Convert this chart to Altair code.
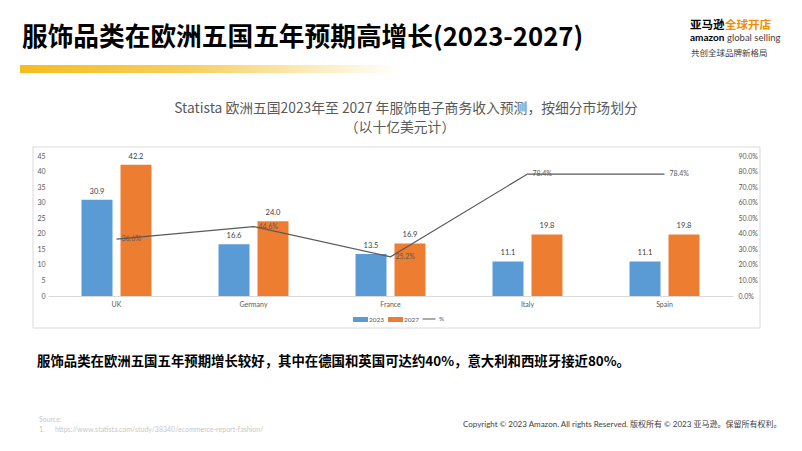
import altair as alt
import pandas as pd

# ---- data ----
countries = ["UK", "Germany", "France", "Italy", "Spain"]
years = ["2023", "2027"]
rev_2023 = [30.9, 16.6, 13.5, 11.1, 11.1]
rev_2027 = [42.2, 24.0, 16.9, 19.8, 19.8]
growth_pct = [36.6, 44.6, 25.2, 78.4, 78.4]

BLUE = "#5B9BD5"
ORANGE = "#ED7D31"
GRAY_TXT = "#595959"
CN = "Noto Sans CJK SC"
LAT = "Lato, Noto Sans CJK SC"

bars_df = pd.DataFrame({
    "country": countries * 2,
    "year": [years[0]] * 5 + [years[1]] * 5,
    "value": rev_2023 + rev_2027,
})
line_df = pd.DataFrame({
    "country": countries,
    "pct": [g / 100 for g in growth_pct],
    "s": ["%"] * 5,
})
one = pd.DataFrame({"k": [0]})

x_scale = alt.Scale(domain=countries, paddingInner=0, paddingOuter=0)
x_enc = alt.X("country:N", scale=x_scale, sort=countries,
              axis=alt.Axis(title=None, labelAngle=0, ticks=False, domainColor="#D9D9D9",
                            labelFontSize=7, labelColor=GRAY_TXT, labelFont=LAT, labelPadding=4, zindex=1))
xoff = alt.XOffset("year:N", sort=years, scale=alt.Scale(paddingInner=0.205, paddingOuter=0.86))
y_left = alt.Y("value:Q", scale=alt.Scale(domain=[0, 45], nice=False),
               axis=alt.Axis(title=None, values=list(range(0, 50, 5)), grid=False, ticks=False, domain=False,
                             labelFontSize=7, labelColor=GRAY_TXT, labelFont=LAT, labelPadding=3, zindex=1))

bars = alt.Chart(bars_df).mark_bar().encode(
    x=x_enc, xOffset=xoff, y=y_left,
    fill=alt.Fill("year:N", sort=years, scale=alt.Scale(domain=years, range=[BLUE, ORANGE]),
                  legend=alt.Legend(orient="none", legendX=305, legendY=156, direction="horizontal",
                                    title=None, symbolType="M-1,-0.333H1V0.333H-1Z", symbolSize=225,
                                    symbolStrokeWidth=0, labelFontSize=6.5, labelColor=GRAY_TXT,
                                    labelFont=LAT, labelOffset=1, columnPadding=3, padding=0)),
)
bar_text = alt.Chart(bars_df).mark_text(baseline="bottom", dy=-4, fontSize=7.5, color="#404040", font=LAT).encode(
    x=x_enc, xOffset=xoff, y=y_left, text=alt.Text("value:Q", format=".1f"),
)
bar_layer = alt.layer(bars, bar_text)

y_right = alt.Y("pct:Q", scale=alt.Scale(domain=[0, 0.9], nice=False),
                axis=alt.Axis(title=None, orient="right", format=".1%", values=[i / 10 for i in range(10)],
                              grid=False, ticks=False, domain=False, labelFontSize=7,
                              labelColor=GRAY_TXT, labelFont=LAT, labelPadding=5, zindex=1))
line = alt.Chart(line_df).mark_line(strokeWidth=1.2).encode(
    x=x_enc, y=y_right,
    stroke=alt.Stroke("s:N", scale=alt.Scale(domain=["%"], range=["#595959"]),
                      legend=alt.Legend(orient="none", legendX=374, legendY=156, title=None,
                                        symbolType="stroke", symbolSize=169, symbolStrokeWidth=1,
                                        labelFontSize=6.5, labelColor=GRAY_TXT, labelFont=LAT,
                                        labelOffset=3, padding=0)),
)
line_text = alt.Chart(line_df).mark_text(align="left", baseline="middle", dx=5, fontSize=7,
                                         color=GRAY_TXT, font=LAT).encode(
    x=x_enc, y=y_right, text=alt.Text("pct:Q", format=".1%"),
)
line_layer = alt.layer(line, line_text)


def txt(s, x, y, size, color="#000000", weight="normal", font=CN, align="left"):
    return alt.Chart(one).mark_text(text=s, fontSize=size, color=color, fontWeight=weight, font=font,
                                    align=align, baseline="middle").encode(x=alt.value(x), y=alt.value(y))


panel = alt.Chart(one).mark_rect(fillOpacity=0, fill="white", stroke="#D9D9D9", strokeWidth=1).encode(
    x=alt.value(-15), x2=alt.value(712), y=alt.value(-9), y2=alt.value(172))

grad = alt.Chart(one).mark_rect(color=alt.Gradient(
    gradient="linear", x1=0, x2=1, y1=0, y2=0,
    stops=[alt.GradientStop(color="#F5BC1C", offset=0), alt.GradientStop(color="#F8D060", offset=0.45),
           alt.GradientStop(color="#FFFFFF", offset=1)])).encode(
    x=alt.value(-28), x2=alt.value(352), y=alt.value(-91), y2=alt.value(-83))

decor = [
    txt("服饰品类在欧洲五国五年预期高增长(2023-2027)", -26, -118, 25.7, weight="bold"),
    txt("亚马逊", 642, -130, 11.5, weight="bold"),
    txt("全球开店", 677, -130, 11.5, color="#F08C00", weight="bold"),
    txt("amazon", 642, -118, 10, weight="bold", font=LAT),
    txt("global selling", 679, -118, 9.5, color="#404040", font=LAT),
    txt("共创全球品牌新格局", 643, -103, 8.5, color="#404040"),
    txt("Statista 欧洲五国2023年至 2027 年服饰电子商务收入预测，按细分市场划分", 358, -47, 13.8,
        color=GRAY_TXT, align="center"),
    txt("（以十亿美元计）", 352, -28, 13.8, color=GRAY_TXT, align="center"),
    txt("服饰品类在欧洲五国五年预期增长较好，其中在德国和英国可达约40%，意大利和西班牙接近80%。",
        -11, 206, 13.4, weight="bold"),
    txt("Source:", -9, 264, 7, color="#C8C8C8", font=LAT),
    txt("1.", -9, 274, 7, color="#C8C8C8", font=LAT),
    txt("https://www.statista.com/study/38340/ecommerce-report-fashion/", 7, 274, 7, color="#C8C8C8", font=LAT),
    txt("Copyright © 2023 Amazon.  All rights Reserved. 版权所有 © 2023 亚马逊。保留所有权利。",
        415, 269, 8, color="#404040", font=LAT),
]

chart = alt.layer(panel, grad, bar_layer, line_layer, *decor).resolve_scale(
    y="independent", fill="independent", stroke="independent"
).properties(
    width=685, height=140,
    autosize=alt.AutoSizeParams(type="none"),
    padding={"left": 40, "top": 148, "right": 61, "bottom": 147},
    background="white",
).configure_view(stroke=None)

chart.save("out.html", embed_options={"renderer": "svg", "actions": False})
